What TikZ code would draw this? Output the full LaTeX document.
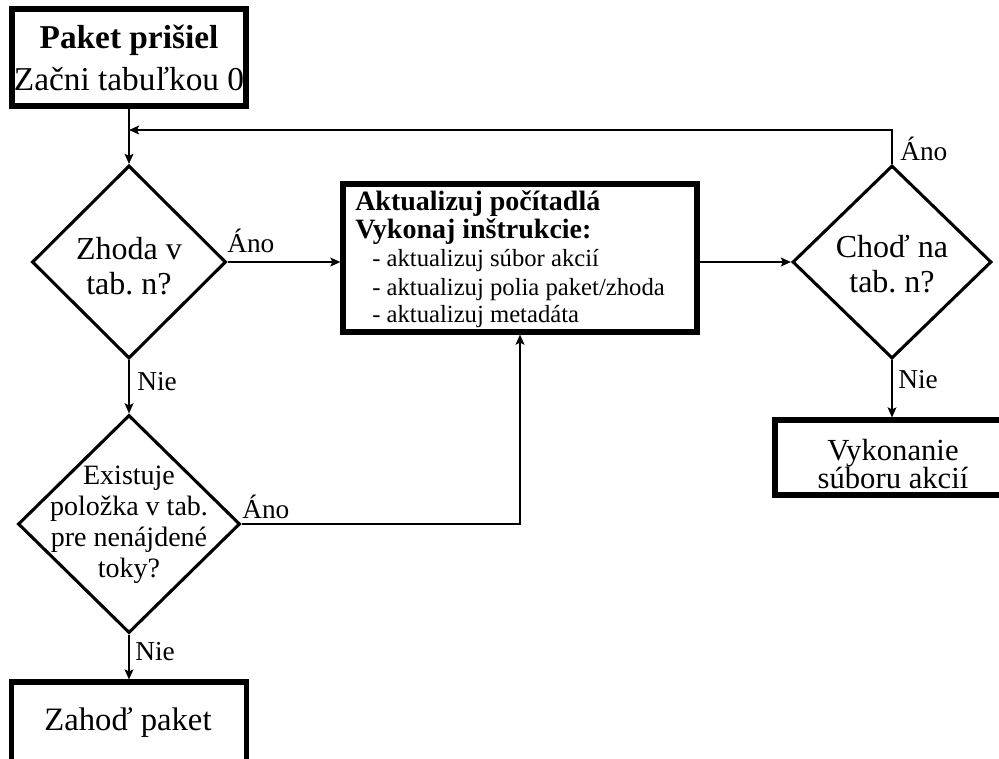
\documentclass[tikz,border=0pt]{standalone}
\usepackage{fontspec}
\setmainfont{Liberation Serif}
\usetikzlibrary{shapes.geometric,arrows.meta}
\frenchspacing
\begin{document}
\begin{tikzpicture}[x=0.75pt,y=-0.75pt,
  box/.style={draw,line width=3.8pt,inner sep=0pt,align=center},
  decision/.style={draw,diamond,line width=2.3pt,inner sep=0pt},
  qtext/.style={align=center,inner sep=0pt},
  line/.style={anchor=base west,inner sep=0pt},
  head/.style={line,font=\fontsize{21}{22}\selectfont\bfseries},
  item/.style={line,font=\fontsize{18.5}{20}\selectfont},
  link/.style={line width=1.5pt,-{Stealth[length=7.5pt,width=6.5pt,inset=1.5pt]}},
  lbl/.style={font=\fontsize{20.5}{22}\selectfont,anchor=base west,inner sep=0pt}
]
\useasboundingbox (0,0) rectangle (999,758);
\clip (0,0) rectangle (999,758);

% start box
\node[box,minimum width=175.5pt,minimum height=72.75pt,
      font=\fontsize{25}{31.5}\selectfont] (start) at (129,57.5)
  {\textbf{Paket prišiel}\\Začni tabuľkou 0};

% match decision
\node[decision,minimum width=145.5pt,minimum height=144.75pt] (match) at (129,262) {};
\node[qtext,font=\fontsize{24}{26}\selectfont] (matcht) at (129,266) {Zhoda v\\tab. n?};

% table-miss decision
\node[decision,minimum width=166.5pt,minimum height=163.5pt] (miss) at (129,524) {};
\node[qtext,font=\fontsize{21}{23.25}\selectfont] (misst) at (129,525)
  {Existuje\\položka v tab.\\pre nenájdené\\toky?};

% drop box
\node[box,minimum width=176.25pt,minimum height=62.25pt] (drop) at (129,723.5) {};
\node[font=\fontsize{24.5}{26}\selectfont,inner sep=0pt,anchor=base] (dropt) at (128,730) {Zahoď paket};

% instruction box and its lines
\node[box,minimum width=265.5pt,minimum height=111pt] (instr) at (520,258) {};
\node[head] (instr1) at (355,210) {Aktualizuj počítadlá};
\node[head] (instr2) at (355,238) {Vykonaj inštrukcie:};
\node[item] (instr3) at (372,266) {- aktualizuj súbor akcií};
\node[item] (instr4) at (372,295) {- aktualizuj polia paket/zhoda};
\node[item] (instr5) at (372,322) {- aktualizuj metadáta};

% goto decision
\node[decision,minimum width=149.25pt,minimum height=144.75pt] (goto) at (892,262) {};
\node[qtext,font=\fontsize{24}{26}\selectfont] (gotot) at (892,264) {Choď na\\tab. n?};

% action set box
\node[box,minimum width=177pt,minimum height=56.25pt] (exec) at (893,457.5) {};
\node[line,anchor=base,font=\fontsize{23}{22}\selectfont] (exec1) at (893,460) {Vykonanie};
\node[line,anchor=base,font=\fontsize{23}{22}\selectfont] (exec2) at (893,488) {súboru akcií};

% loop-back junction
\coordinate (join) at (129,130);

% connectors
\draw[link] (start) -- (match);
\draw[link] (goto.north) |- (join);
\draw[link] (match.east) -- (match.east -| instr.west);
\draw[link] (instr.east |- goto.west) -- (goto.west);
\draw[link] (match) -- (miss);
\draw[link] (miss.east) -| (instr.south);
\draw[link] (miss) -- (drop);
\draw[link] (goto.south) -- (goto.south |- exec.north);

% branch labels
\node[lbl] (yes1) at (227,252) {Áno};
\node[lbl] (no1)  at (137,390) {Nie};
\node[lbl] (yes2) at (242,518) {Áno};
\node[lbl] (no2)  at (135,660) {Nie};
\node[lbl] (yes3) at (900,160) {Áno};
\node[lbl] (no3)  at (898,388) {Nie};
\end{tikzpicture}
\end{document}
